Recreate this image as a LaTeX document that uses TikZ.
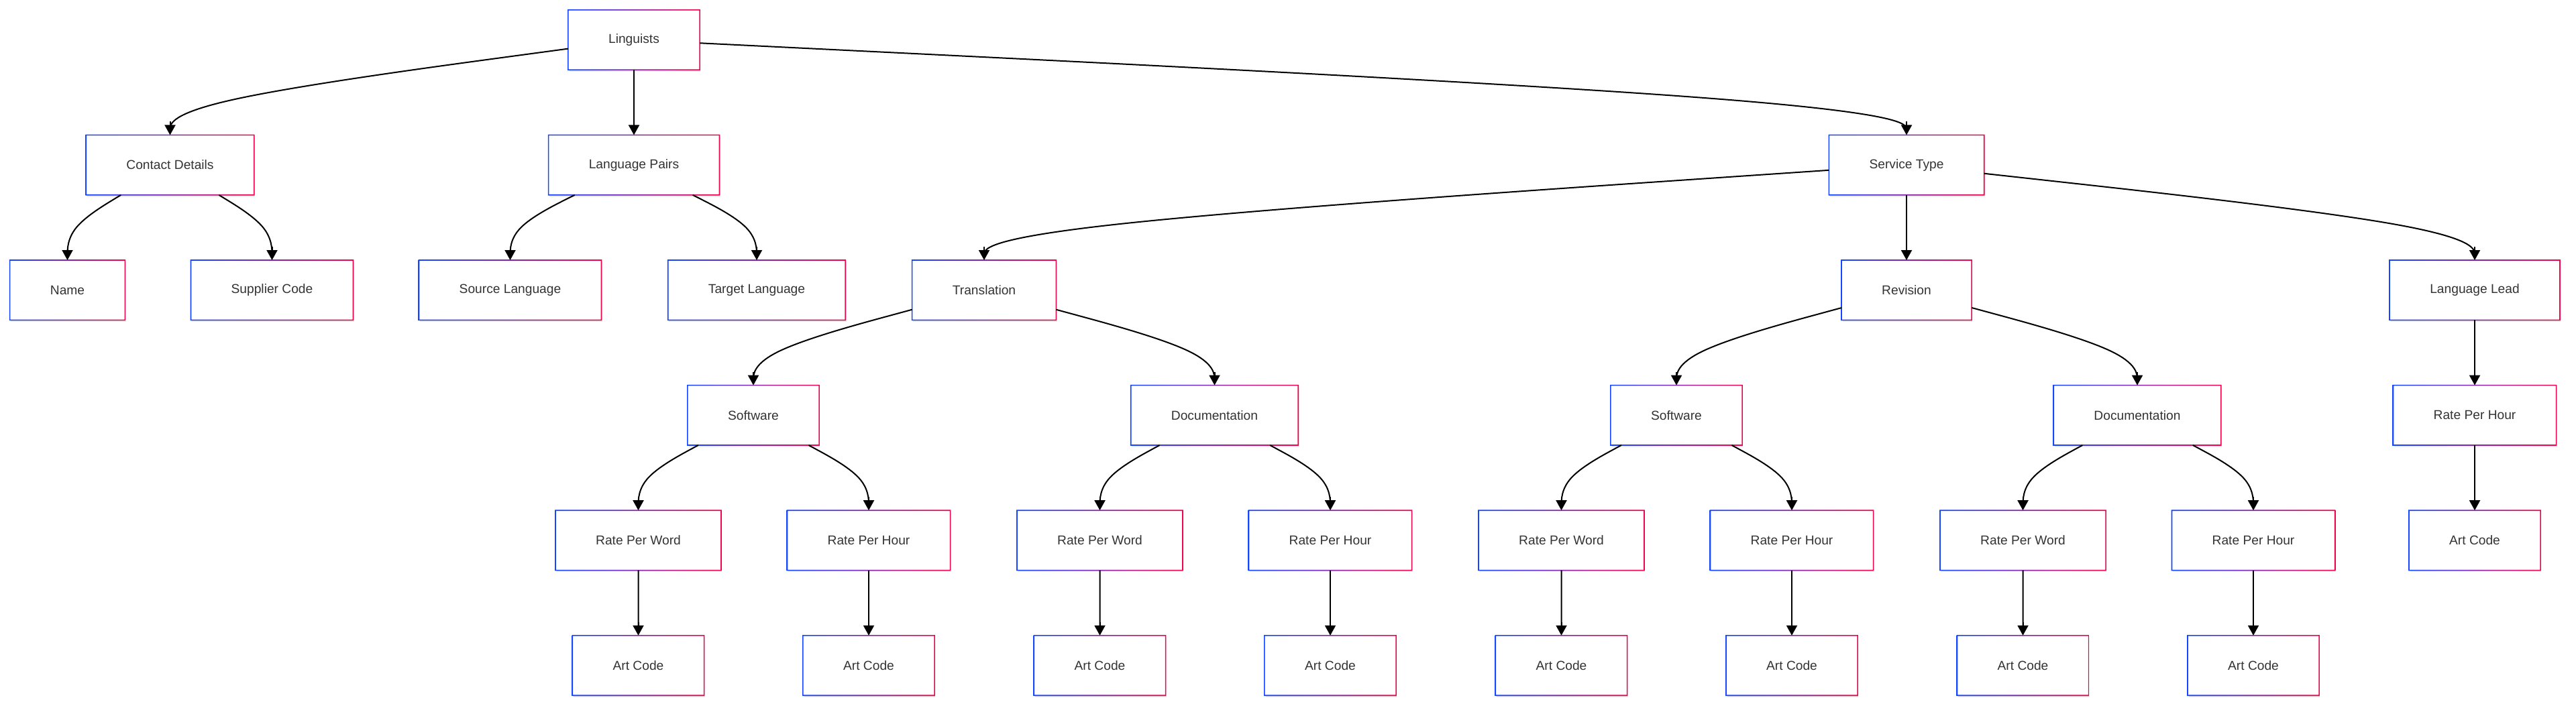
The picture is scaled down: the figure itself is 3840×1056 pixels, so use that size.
\documentclass[tikz,border=0pt]{standalone}
\usepackage{fontspec}
\setmainfont{Liberation Sans}
\usetikzlibrary{calc,arrows.meta,shadows}
\definecolor{gblue}{RGB}{20,70,255}
\definecolor{gred}{RGB}{240,5,75}
\definecolor{txt}{RGB}{51,51,51}
\tikzset{
  box/.style={rectangle, fill=white, inner xsep=60pt, inner ysep=0pt,
    minimum height=89pt, text=txt, font=\fontsize{19.2}{23}\selectfont,
    drop shadow={shadow xshift=1.5pt, shadow yshift=-3pt, opacity=0.12, fill=black!60},
    drop shadow={shadow xshift=0.8pt, shadow yshift=-1.6pt, opacity=0.18, fill=black!50}},
  edgeline/.style={line width=2pt, black},
  tipline/.style={line width=2pt, black, -{Triangle[length=15pt,width=16pt]}},
}
\newcommand\gframe[1]{%
  \shade[left color=gblue, right color=gred, even odd rule]
    ($(#1.south west)+(-0.8pt,-0.8pt)$) rectangle ($(#1.north east)+(0.8pt,0.8pt)$)
    ($(#1.south west)+(0.8pt,0.8pt)$) rectangle ($(#1.north east)+(-0.8pt,-0.8pt)$);
}
\newcommand\link[2]{%
  \coordinate (M) at ($(#1.center)!0.5!(#2.center)$);
  \coordinate (A1) at (#2.center |- M);
  \path (#1) -- (A1) coordinate[pos=0] (A0);
  \coordinate (A2) at (#2.north);
  \coordinate (AM) at ($(A0)!0.5!(A2)$);
  \draw[edgeline] (A0) -- ($(A0)!1/6!(A1)$)
    .. controls ($(A0)!1/3!(A1)$) and ($(A0)!2/3!(A1)$) .. ($(A1)!1/3!(AM)$)
    .. controls ($(A1)!1/3!(A2)$) and ($(A1)!2/3!(A2)$) .. ($(A1)!5/6!(A2)$);
  \draw[tipline] ($(A2)+(0pt,20pt)$) -- (A2);
}
\begin{document}
\begin{tikzpicture}[x=1pt,y=-1pt]
\fill[white] (0,0) rectangle (3840,1056);
\useasboundingbox (0,0) rectangle (3840,1056);
% row 0
\node[box] (ling) at (945,59.5) {Linguists};
% row 1
\node[box] (cd) at (253.5,246.1) {Contact Details};
\node[box] (lp) at (945,246.1) {Language Pairs};
\node[box] (st) at (2842,246.1) {Service Type};
% row 2
\node[box] (nm) at (100.5,432.7) {Name};
\node[box] (sc) at (405.5,432.7) {Supplier Code};
\node[box] (sl) at (760.5,432.7) {Source Language};
\node[box] (tl) at (1128,432.7) {Target Language};
\node[box] (tr) at (1467,432.7) {Translation};
\node[box] (rv) at (2842,432.7) {Revision};
\node[box] (ll) at (3689,432.7) {Language Lead};
% row 3
\node[box] (sw1) at (1123,619.3) {Software};
\node[box] (dc1) at (1810.5,619.3) {Documentation};
\node[box] (sw2) at (2499,619.3) {Software};
\node[box] (dc2) at (3186,619.3) {Documentation};
\node[box] (llh) at (3689,619.3) {Rate Per Hour};
% row 4
\node[box] (w1) at (951.5,805.9) {Rate Per Word};
\node[box] (h1) at (1295,805.9) {Rate Per Hour};
\node[box] (w2) at (1639.5,805.9) {Rate Per Word};
\node[box] (h2) at (1983,805.9) {Rate Per Hour};
\node[box] (w3) at (2327.5,805.9) {Rate Per Word};
\node[box] (h3) at (2671,805.9) {Rate Per Hour};
\node[box] (w4) at (3015.5,805.9) {Rate Per Word};
\node[box] (h4) at (3359,805.9) {Rate Per Hour};
\node[box] (lla) at (3689,805.9) {Art Code};
% row 5
\node[box] (a1) at (951.5,992.5) {Art Code};
\node[box] (a2) at (1295,992.5) {Art Code};
\node[box] (a3) at (1639.5,992.5) {Art Code};
\node[box] (a4) at (1983,992.5) {Art Code};
\node[box] (a5) at (2327.5,992.5) {Art Code};
\node[box] (a6) at (2671,992.5) {Art Code};
\node[box] (a7) at (3015.5,992.5) {Art Code};
\node[box] (a8) at (3359,992.5) {Art Code};
% gradient frames
\foreach \n in {ling,cd,lp,st,nm,sc,sl,tl,tr,rv,ll,sw1,dc1,sw2,dc2,llh,w1,h1,w2,h2,w3,h3,w4,h4,lla,a1,a2,a3,a4,a5,a6,a7,a8}{\gframe{\n}}
% connectors
\link{ling}{cd}\link{ling}{lp}\link{ling}{st}
\link{cd}{nm}\link{cd}{sc}
\link{lp}{sl}\link{lp}{tl}
\link{st}{tr}\link{st}{rv}\link{st}{ll}
\link{tr}{sw1}\link{tr}{dc1}
\link{rv}{sw2}\link{rv}{dc2}
\link{ll}{llh}\link{llh}{lla}
\link{sw1}{w1}\link{sw1}{h1}
\link{dc1}{w2}\link{dc1}{h2}
\link{sw2}{w3}\link{sw2}{h3}
\link{dc2}{w4}\link{dc2}{h4}
\link{w1}{a1}\link{h1}{a2}\link{w2}{a3}\link{h2}{a4}
\link{w3}{a5}\link{h3}{a6}\link{w4}{a7}\link{h4}{a8}
\end{tikzpicture}
\end{document}
